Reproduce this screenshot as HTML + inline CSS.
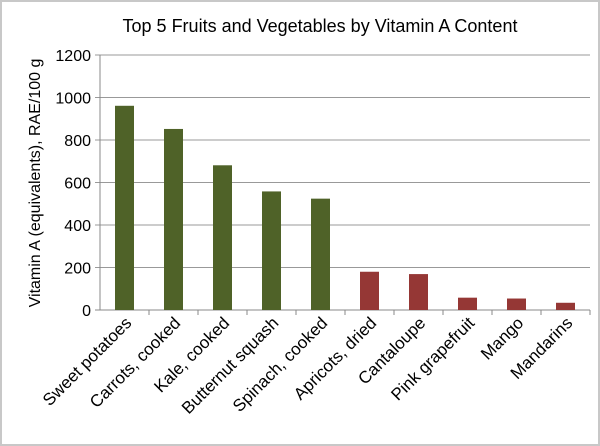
<!DOCTYPE html>
<html><head><style>
body{margin:0;background:#fff;}
svg{display:block;font-family:"Liberation Sans",sans-serif;}
</style></head><body>
<svg id="chart" width="600" height="446">
<rect x="1" y="1" width="598" height="444" fill="#fff" stroke="#c8c8c8" stroke-width="2"/>
<text x="320" y="32" font-size="18" text-anchor="middle" fill="#000">Top 5 Fruits and Vegetables by Vitamin A Content</text>
<text transform="translate(40,183) rotate(-90)" font-size="16" text-anchor="middle" fill="#000">Vitamin A (equivalents), RAE/100 g</text>
<g id="grid"></g><g id="bars"></g><g id="axes"></g>
</svg>
<script>
const categories=["Sweet potatoes","Carrots, cooked","Kale, cooked","Butternut squash","Spinach, cooked","Apricots, dried","Cantaloupe","Pink grapefruit","Mango","Mandarins"];
const values=[961,852,681,558,524,180,169,58,54,34];
const groups=["veg","veg","veg","veg","veg","fruit","fruit","fruit","fruit","fruit"];
const yTicks=[0,200,400,600,800,1000,1200];
const NS="http://www.w3.org/2000/svg";
const x0=100,x1=590,yTop=55,yBot=310,yMax=1200;
const bw=(x1-x0)/categories.length;
function y(v){return yBot-(v/yMax)*(yBot-yTop);}
function xc(i){return x0+bw*(i+0.5);}
function mk(tag,attrs,parent){const e=document.createElementNS(NS,tag);for(const k in attrs)e.setAttribute(k,attrs[k]);document.getElementById(parent).appendChild(e);return e;}
yTicks.forEach(t=>{
  const l=mk('line',{x1:x0-5,x2:x1,y1:y(t),y2:y(t),stroke:t===0?'#888':'#999','stroke-width':1},'grid');
  
  
  const tx=mk('text',{x:x0-9,y:y(t)+6,'font-size':16,'text-anchor':'end',fill:'#000'},'axes');
  tx.textContent=t;
  
  
});
const ax=mk('line',{x1:x0,x2:x0,y1:yTop,y2:yBot,stroke:'#888'},'axes');


categories.forEach((c,i)=>{
  const r=mk('rect',{x:xc(i)-9.5,y:y(values[i]),width:19,height:yBot-y(values[i]),fill:groups[i]==='veg'?'#4f6228':'#953735'},'bars');
  
  
  const tk=mk('line',{x1:x0+bw*(i+1),x2:x0+bw*(i+1),y1:yBot,y2:yBot+5,stroke:'#888'},'axes');
  
  
  const t=mk('text',{transform:`translate(${xc(i)+8},${yBot+14}) rotate(-45)`,'font-size':17,'text-anchor':'end',fill:'#000'},'axes');
  t.textContent=c;
  
  
});
</script>
</body></html>
